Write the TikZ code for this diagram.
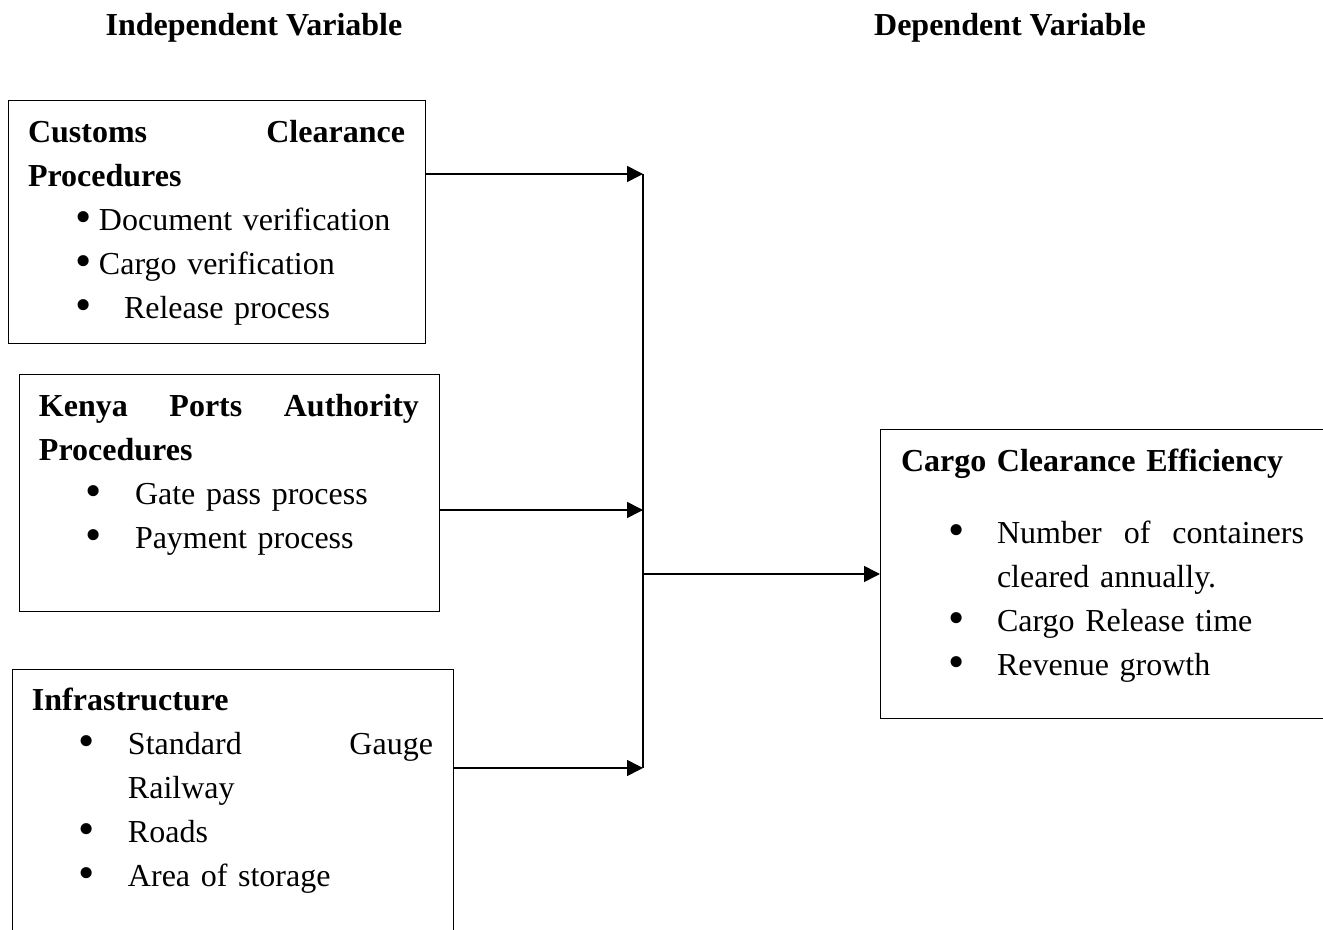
\documentclass[tikz,border=0pt]{standalone}
\usepackage{fontspec}
\usepackage{graphicx}
\setmainfont{Liberation Serif}
\usetikzlibrary{arrows.meta,positioning,calc}
\newcommand{\Itm}[1][48pt]{\makebox[#1][l]{\hspace*{23.5pt}\smash{\raisebox{-1.2pt}{\scalebox{1.45}{\textbullet}}}}}
\tikzset{
  varbox/.style={draw, line width=0.5pt, anchor=north west, align=left,
    inner ysep=0pt, inner xsep=10pt, outer sep=0pt,
    font=\fontsize{16}{22}\selectfont},
  hd/.style={anchor=base, font=\fontsize{16}{22}\selectfont\bfseries},
  arr/.style={line width=0.8pt, -{Triangle[length=8pt,width=8pt]}},
}
\begin{document}
\begin{tikzpicture}[x=0.5pt,y=-0.5pt]
  \useasboundingbox (0,0) rectangle (1323,930);
  \clip (0,0) rectangle (1323,930);
  % headings
  \node[hd] (iv) at (254,36) {Independent Variable};
  \node[hd] (dv) at (1010,36) {Dependent Variable};
  % independent variables
  \node[varbox, text width=188.5pt, minimum height=121.5pt] (cc) at (8,101) {%
    \textbf{Customs\hfill Clearance}\\
    \textbf{Procedures}\\
    \Itm[35.5pt]Document verification\\
    \Itm[35.5pt]Cargo verification\\
    \Itm Release process};
  \node[varbox, text width=190pt, minimum height=118pt] (kpa) at (19,375) {%
    \textbf{Kenya\hfill Ports\hfill Authority}\\
    \textbf{Procedures}\\
    \Itm Gate pass process\\
    \Itm Payment process\\ \mbox{}};
  \node[varbox, text width=200.5pt, minimum height=140pt] (infra) at (12,669) {%
    \textbf{Infrastructure}\\
    \Itm Standard\hfill Gauge\\
    \hspace*{48pt}Railway\\
    \Itm Roads\\
    \Itm Area of storage\\ \mbox{}};
  % dependent variable
  \node[varbox, inner xsep=10.5pt, text width=201.5pt, minimum height=144pt] (cce) at (880,430) {%
    \textbf{Cargo Clearance Efficiency}\\[14pt]
    \Itm Number\hfill of\hfill containers\\
    \hspace*{48pt}cleared annually.\\
    \Itm Cargo Release time\\
    \Itm Revenue growth\\[-10pt] \mbox{}};
  % connectors
  \coordinate (j1) at (643,174);
  \coordinate (j2) at (643,510);
  \coordinate (j3) at (643,768);
  \coordinate (jo) at (643,574);
  \draw[arr] (cc.east |- j1) -- (j1);
  \draw[arr] (kpa.east |- j2) -- (j2);
  \draw[arr] (infra.east |- j3) -- (j3);
  \draw[line width=0.8pt] (j1) -- (j3);
  \draw[arr] (jo) -- (cce.west |- jo);
\end{tikzpicture}
\end{document}
